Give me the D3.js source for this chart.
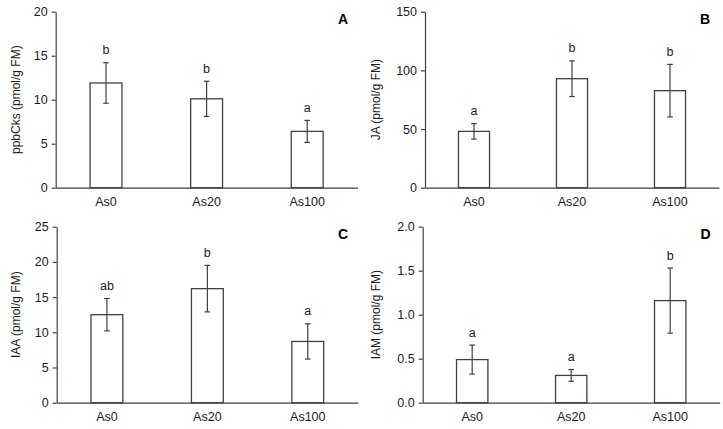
<!DOCTYPE html>
<html>
<head>
<meta charset="utf-8">
<script src="https://cdn.jsdelivr.net/npm/d3@7"></script>
<style>
  html, body { margin: 0; padding: 0; background: #fff; }
  svg { display: block; font-family: "Liberation Sans", Arial, sans-serif; }
</style>
</head>
<body>
<svg id="chart" width="723" height="429"></svg>
<script>
// ---- data ----
const categories = ["As0", "As20", "As100"];

const ppbCksValues = [11.9, 10.1, 6.4];
const ppbCksErrors = [2.3, 2.0, 1.25];
const ppbCksLetters = ["b", "b", "a"];
const ppbCksTicks = [0, 5, 10, 15, 20];

const jaValues = [48.0, 92.9, 82.7];
const jaErrors = [6.6, 15.2, 22.4];
const jaLetters = ["a", "b", "b"];
const jaTicks = [0, 50, 100, 150];

const iaaValues = [12.5, 16.2, 8.7];
const iaaErrors = [2.3, 3.3, 2.5];
const iaaLetters = ["ab", "b", "a"];
const iaaTicks = [0, 5, 10, 15, 20, 25];

const iamValues = [0.49, 0.31, 1.16];
const iamErrors = [0.165, 0.067, 0.37];
const iamLetters = ["a", "a", "b"];
const iamTicks = [0, 0.5, 1.0, 1.5, 2.0];

const panelTitles = ["ppbCks (pmol/g FM)", "JA (pmol/g FM)", "IAA (pmol/g FM)", "IAM (pmol/g FM)"];
const panelLabels = ["A", "B", "C", "D"];

// ---- layout ----
const layouts = [
  { x0: 55.7, x1: 357.5, y0: 11.7, y1: 187.7, titleX: 16, labelX: 343 },
  { x0: 425, x1: 719, y0: 11.7, y1: 187.7, titleX: 376, labelX: 705 },
  { x0: 56.7, x1: 358, y0: 226.7, y1: 402.7, titleX: 16, labelX: 343 },
  { x0: 422.7, x1: 719.7, y0: 226.7, y1: 402.7, titleX: 376, labelX: 705.5 }
];

const panels = [
  { values: ppbCksValues, errors: ppbCksErrors, letters: ppbCksLetters, ticks: ppbCksTicks, fmt: d3.format("d") },
  { values: jaValues, errors: jaErrors, letters: jaLetters, ticks: jaTicks, fmt: d3.format("d") },
  { values: iaaValues, errors: iaaErrors, letters: iaaLetters, ticks: iaaTicks, fmt: d3.format("d") },
  { values: iamValues, errors: iamErrors, letters: iamLetters, ticks: iamTicks, fmt: d3.format(".1f") }
];

const svg = d3.select("#chart");
const lineColor = "#404040";
const textColor = "#1a1a1a";

panels.forEach((p, k) => {
  const L = layouts[k];
  const g = svg.append("g");

  const x = d3.scaleBand().domain(categories).range([L.x0, L.x1])
    .paddingInner(0.683).paddingOuter(0.3415);
  const y = d3.scaleLinear().domain([d3.min(p.ticks), d3.max(p.ticks)]).range([L.y1, L.y0]);

  // y axis
  const yAxis = d3.axisLeft(y).tickValues(p.ticks).tickFormat(p.fmt).tickSizeInner(4).tickSizeOuter(0).tickPadding(4);
  const ya = g.append("g").attr("transform", `translate(${L.x0},0)`).call(yAxis);
  ya.select(".domain").attr("stroke", lineColor).attr("stroke-width", 1.2);
  ya.selectAll(".tick line").attr("stroke", lineColor).attr("stroke-width", 1.2);
  ya.selectAll(".tick text").attr("font-size", 12.5).attr("fill", textColor)
    .attr("font-family", "Liberation Sans, Arial, sans-serif");

  // x axis
  const xAxis = d3.axisBottom(x).tickSize(0).tickPadding(9);
  const xa = g.append("g").attr("transform", `translate(0,${L.y1})`).call(xAxis);
  xa.select(".domain").attr("stroke", lineColor).attr("stroke-width", 1.2);
  xa.selectAll(".tick text").attr("font-size", 12.5).attr("fill", textColor)
    .attr("font-family", "Liberation Sans, Arial, sans-serif");

  // bars
  g.selectAll("rect.bar").data(p.values).enter().append("rect")
    .attr("class", "bar")
    .attr("x", (d, i) => x(categories[i]))
    .attr("width", x.bandwidth())
    .attr("y", d => y(d))
    .attr("height", d => y(0) - y(d))
    .attr("fill", "#fff")
    .attr("stroke", lineColor)
    .attr("stroke-width", 1.3);

  // error bars
  const cap = 2.8;
  p.values.forEach((v, i) => {
    const cx = x(categories[i]) + x.bandwidth() / 2;
    const top = y(v + p.errors[i]);
    const bot = y(v - p.errors[i]);
    g.append("line").attr("x1", cx).attr("x2", cx).attr("y1", top).attr("y2", bot)
      .attr("stroke", lineColor).attr("stroke-width", 1.2);
    g.append("line").attr("x1", cx - cap).attr("x2", cx + cap).attr("y1", top).attr("y2", top)
      .attr("stroke", lineColor).attr("stroke-width", 1.2);
    g.append("line").attr("x1", cx - cap).attr("x2", cx + cap).attr("y1", bot).attr("y2", bot)
      .attr("stroke", lineColor).attr("stroke-width", 1.2);
    g.append("text").attr("x", cx).attr("y", top - 8.5)
      .attr("text-anchor", "middle").attr("font-size", 12.5).attr("fill", textColor)
      .text(p.letters[i]);
  });

  // axis title
  const cy = (L.y0 + L.y1) / 2;
  g.append("text")
    .attr("transform", `translate(${L.titleX},${cy}) rotate(-90)`)
    .attr("text-anchor", "middle").attr("dominant-baseline", "central")
    .attr("font-size", 12).attr("fill", textColor)
    .text(panelTitles[k]);

  // panel label
  g.append("text").attr("x", L.labelX).attr("y", L.y0 + 12.5)
    .attr("text-anchor", "middle").attr("font-size", 14).attr("font-weight", "bold")
    .attr("fill", "#000").text(panelLabels[k]);
});
</script>
</body>
</html>
